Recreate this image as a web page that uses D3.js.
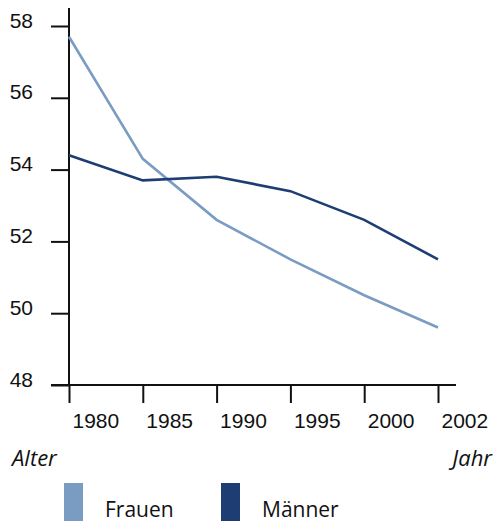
<!DOCTYPE html>
<html>
<head>
<meta charset="utf-8">
<script src="https://d3js.org/d3.v7.min.js"></script>
<style>
body{margin:0;background:#fff;}
svg{font-family:"Open Sans","Noto Sans",sans-serif;font-variant-numeric:oldstyle-nums;font-feature-settings:"onum" 1;}
.tick text{font-size:21px;fill:#111;}
.label{font-size:22px;font-style:italic;fill:#111;}
.legend{font-size:21px;fill:#111;}
</style>
</head>
<body>
<svg id="graph"></svg>
<script>
var years=["1980","1985","1990","1995","2000","2002"]
var frauen=[57.7,54.3,52.6,51.5,50.5,49.6]
var maenner=[54.4,53.7,53.8,53.4,52.6,51.5]
var yTicks=[48,50,52,54,56,58]
var seriesNames=["Frauen","Männer"]
var seriesColors=["#7a9cc3","#1e3d73"]

var initGraph=function()
    {
        var screen={width:495,height:524}
        var margins={left:69,right:57,top:26,bottom:139}

        var graph=
            {
                width:screen.width-margins.left-margins.right,
                height:screen.height-margins.top-margins.bottom
            }

        var svg=d3.select("#graph")
            .attr("width",screen.width)
            .attr("height",screen.height)

        var xScale=d3.scalePoint()
            .domain(years)
            .range([margins.left,margins.left+graph.width])

        var yScale=d3.scaleLinear()
            .domain([48,58])
            .range([margins.top+graph.height,margins.top])

        drawAxes(svg,graph,margins,xScale,yScale)
        drawLines(svg,xScale,yScale)
        drawLabels(svg,graph,margins)
        drawLegend(svg)
    }

var drawAxes=function(svg,graph,margins,xScale,yScale)
    {
        var yAxis=d3.axisLeft(yScale)
            .tickValues(yTicks)
            .tickSize(18)
            .tickPadding(18)
        var yG=svg.append("g")
            .attr("transform","translate("+margins.left+",0)")
            .call(yAxis)
        yG.select(".domain").remove()
        yG.selectAll(".tick line").attr("stroke","#111").attr("stroke-width",2)
        yG.selectAll(".tick text").attr("dy","0.05em").attr("font-family",null).attr("font-size",null)

        var xAxis=d3.axisBottom(xScale)
            .tickSize(18)
        var xG=svg.append("g")
            .attr("transform","translate(0,"+(margins.top+graph.height)+")")
            .call(xAxis)
        xG.select(".domain").remove()
        xG.selectAll(".tick line").attr("stroke","#111").attr("stroke-width",2)
        xG.selectAll(".tick text")
            .attr("text-anchor","start")
            .attr("x",3)
            .attr("y",43)
            .attr("dy",0)
            .attr("font-family",null).attr("font-size",null)

        // axis lines
        svg.append("line")
            .attr("x1",margins.left).attr("x2",margins.left)
            .attr("y1",8).attr("y2",margins.top+graph.height)
            .attr("stroke","#111").attr("stroke-width",2)
        svg.append("line")
            .attr("x1",51).attr("x2",456)
            .attr("y1",margins.top+graph.height).attr("y2",margins.top+graph.height)
            .attr("stroke","#111").attr("stroke-width",2)
    }

var drawLines=function(svg,xScale,yScale)
    {
        var lineGenerator=d3.line()
            .x(function(d,i){return xScale(years[i])})
            .y(function(d){return yScale(d)})

        svg.append("path")
            .datum(frauen)
            .attr("d",lineGenerator)
            .attr("fill","none")
            .attr("stroke",seriesColors[0])
            .attr("stroke-width",2.6)
        svg.append("path")
            .datum(maenner)
            .attr("d",lineGenerator)
            .attr("fill","none")
            .attr("stroke",seriesColors[1])
            .attr("stroke-width",2.6)
    }

var drawLabels=function(svg,graph,margins)
    {
        svg.append("text")
            .classed("label",true)
            .attr("x",12)
            .attr("y",466)
            .text("Alter")
        svg.append("text")
            .classed("label",true)
            .attr("x",492)
            .attr("y",466)
            .attr("text-anchor","end")
            .text("Jahr")
    }

var drawLegend=function(svg)
    {
        var pos=[{rx:64,tx:105},{rx:221,tx:262}]
        var items=svg.append("g")
            .selectAll("g")
            .data(seriesNames)
            .enter()
            .append("g")
        items.append("rect")
            .attr("x",function(d,i){return pos[i].rx})
            .attr("y",483)
            .attr("width",19)
            .attr("height",38)
            .attr("fill",function(d,i){return seriesColors[i]})
        items.append("text")
            .classed("legend",true)
            .attr("x",function(d,i){return pos[i].tx})
            .attr("y",517)
            .text(function(d){return d})
    }

initGraph()
</script>
</body>
</html>
